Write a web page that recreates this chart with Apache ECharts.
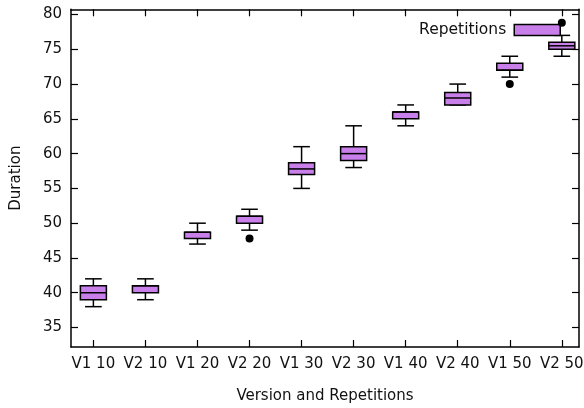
<!DOCTYPE html>
<html>
<head>
<meta charset="utf-8">
<script src="https://cdn.jsdelivr.net/npm/echarts@6/dist/echarts.min.js"></script>
<style>html,body{margin:0;padding:0;background:#fff}#c{width:584px;height:408px}</style>
</head>
<body>
<div id="c"></div>
<script>
const categories = ['V1 10','V2 10','V1 20','V2 20','V1 30','V2 30','V1 40','V2 40','V1 50','V2 50'];
const mins    = [38, 39, 47, 49, 55, 58, 64, 67, 71, 74];
const q1s     = [39, 40, 47.8, 50, 57, 59, 65, 67, 72, 75];
const medians = [40, 41, 48.7, 51, 57.8, 60, 66, 68, 72, 75.5];
const q3s     = [41, 41, 48.7, 51, 58.7, 61, 66, 68.8, 73, 76];
const maxs    = [42, 42, 50, 52, 61, 64, 67, 70, 74, 77];
const outliers = [[3, 47.8], [8, 70], [9, 78.8]];
const yTicks = [35, 40, 45, 50, 55, 60, 65, 70, 75, 80];
const xTicks = categories.map((c, i) => i);

const FONT = 'DejaVu Sans';
const FS = 15;
const TXT = '#111';
const boxData = categories.map((c, i) => [i, mins[i], q1s[i], medians[i], q3s[i], maxs[i]]);

function renderBox(params, api) {
  const x = api.value(0);
  const lo = api.coord([x, api.value(1)]);
  const q1 = api.coord([x, api.value(2)]);
  const md = api.coord([x, api.value(3)]);
  const q3 = api.coord([x, api.value(4)]);
  const hi = api.coord([x, api.value(5)]);
  const hb = api.size([0.5, 0])[0] / 2;
  const hc = api.size([0.32, 0])[0] / 2;
  const cx = lo[0];
  const ls = {stroke: '#000', lineWidth: 1.5};
  return {
    type: 'group',
    children: [
      {type: 'line', shape: {x1: cx, y1: hi[1], x2: cx, y2: q3[1]}, style: ls},
      {type: 'line', shape: {x1: cx, y1: q1[1], x2: cx, y2: lo[1]}, style: ls},
      {type: 'line', shape: {x1: cx - hc, y1: hi[1], x2: cx + hc, y2: hi[1]}, style: ls},
      {type: 'line', shape: {x1: cx - hc, y1: lo[1], x2: cx + hc, y2: lo[1]}, style: ls},
      {type: 'rect', shape: {x: cx - hb, y: q3[1], width: 2 * hb, height: q1[1] - q3[1]},
        style: {fill: '#c97fe9', stroke: '#000', lineWidth: 1.5}},
      {type: 'line', shape: {x1: cx - hb, y1: md[1], x2: cx + hb, y2: md[1]}, style: ls}
    ]
  };
}

const chart = echarts.init(document.getElementById('c'), null, {renderer: 'canvas'});
const axisLineStyle = {color: '#000', width: 1.5};
const tickStyle = {color: '#000', width: 1.2};
chart.setOption({
  animation: false,
  backgroundColor: '#fff',
  textStyle: {fontFamily: FONT, fontSize: FS, color: TXT},
  grid: {left: 71, right: 5, top: 9.3, bottom: 61, containLabel: false, outerBoundsMode: 'none'},
  legend: {
    data: ['Repetitions'],
    right: 23, top: 22, padding: 0,
    align: 'right',
    itemWidth: 46, itemHeight: 11,
    icon: 'rect',
    itemGap: 6,
    textStyle: {fontFamily: FONT, fontSize: 15.5, color: TXT, padding: [0, 3, 0, 0]},
    itemStyle: {color: '#c97fe9', borderColor: '#000', borderWidth: 1.5}
  },
  xAxis: [{
    type: 'value', min: -0.43, max: 9.33,
    splitLine: {show: false},
    axisLine: {show: true, onZero: false, lineStyle: axisLineStyle},
    axisTick: {show: true, inside: true, length: 7, customValues: xTicks, lineStyle: tickStyle},
    axisLabel: {customValues: xTicks, formatter: v => categories[Math.round(v)] || '', fontFamily: FONT, fontSize: FS, color: TXT, margin: 10},
    name: 'Version and Repetitions', nameLocation: 'middle', nameGap: 42,
    nameTextStyle: {fontFamily: FONT, fontSize: FS, color: TXT}
  }, {
    type: 'value', min: -0.43, max: 9.33, position: 'top',
    splitLine: {show: false},
    axisLine: {show: true, onZero: false, lineStyle: axisLineStyle},
    axisTick: {show: true, inside: true, length: 7, customValues: xTicks, lineStyle: tickStyle},
    axisLabel: {show: false}
  }],
  yAxis: [{
    type: 'value', min: 32.2, max: 80.75,
    splitLine: {show: false},
    axisLine: {show: true, onZero: false, lineStyle: axisLineStyle},
    axisTick: {show: true, inside: true, length: 7, customValues: yTicks, lineStyle: tickStyle},
    axisLabel: {customValues: yTicks, fontFamily: FONT, fontSize: FS, color: TXT, margin: 9},
    name: 'Duration', nameLocation: 'middle', nameGap: 47, nameRotate: 90,
    nameTextStyle: {fontFamily: FONT, fontSize: FS, color: TXT}
  }, {
    type: 'value', min: 32.2, max: 80.75, position: 'right',
    splitLine: {show: false},
    axisLine: {show: true, onZero: false, lineStyle: axisLineStyle},
    axisTick: {show: true, inside: true, length: 7, customValues: yTicks, lineStyle: tickStyle},
    axisLabel: {show: false}
  }],
  series: [{
    name: 'Repetitions',
    type: 'custom',
    xAxisIndex: 0, yAxisIndex: 0,
    renderItem: renderBox,
    encode: {x: 0, y: [1, 2, 3, 4, 5]},
    itemStyle: {color: '#c97fe9', borderColor: '#000', borderWidth: 1.5},
    data: boxData,
    z: 2
  }, {
    name: 'outliers',
    type: 'scatter',
    xAxisIndex: 0, yAxisIndex: 0,
    symbol: 'circle', symbolSize: 8,
    itemStyle: {color: '#000', opacity: 1},
    data: outliers,
    z: 10
  }]
});
</script>
</body>
</html>
